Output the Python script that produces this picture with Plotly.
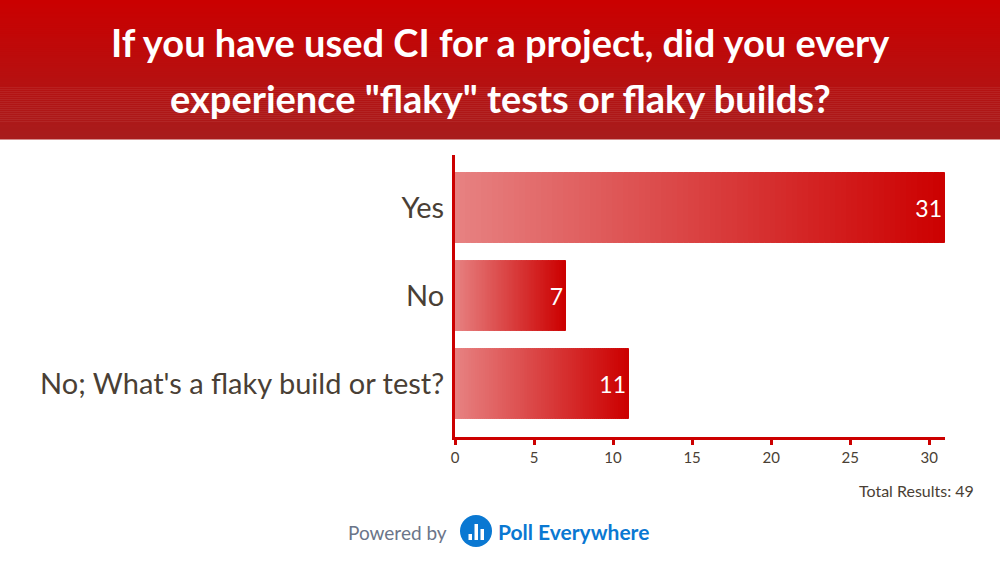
import plotly.graph_objects as go

categories = ["Yes", "No", "No; What's a flaky build or test?"]
counts = [31, 7, 11]
total_label = "Total Results: 49"
title_lines = ["If you have used CI for a project, did you every", "experience \"flaky\" tests or flaky builds?"]
x_ticks = [0, 5, 10, 15, 20, 25, 30]

FONT = "Source Sans Pro, Lato, Roboto, sans-serif"
LIGHT = (231, 130, 130)
DARK = (204, 0, 0)
N = 90

def lerp(a, b, t):
    return tuple(round(a[k] + (b[k] - a[k]) * t) for k in range(3))

fig = go.Figure()
for j in range(N):
    t = (j + 0.5) / N
    c = "rgb(%d,%d,%d)" % lerp(LIGHT, DARK, t)
    fig.add_trace(go.Bar(
        y=categories, x=[v / N for v in counts], base=[v * j / N for v in counts],
        orientation="h", width=0.79, marker=dict(color=c, line=dict(color=c, width=1)),
        hoverinfo="skip", showlegend=False))

fig.add_trace(go.Bar(
    y=categories, x=counts, orientation="h", width=0.79,
    marker=dict(color="rgba(0,0,0,0)", line=dict(width=0)),
    text=[str(v) for v in counts], textposition="inside", insidetextanchor="end",
    textfont=dict(color="white", size=23, family=FONT), showlegend=False))

W, H = 1000, 562
L, R, T, B = 455, 55, 155, 125
pw, ph = W - L - R, H - T - B

def px(xp):
    return (xp - L) / pw
def py(yp):
    return (H - B - yp) / ph

# banner gradient
shapes = []
S = 70
top = (202, 0, 0)
bot = (168, 28, 28)
BH = 139
for k in range(S):
    c = "rgb(%d,%d,%d)" % lerp(top, bot, k / (S - 1))
    shapes.append(dict(type="rect", xref="paper", yref="paper", x0=px(-5), x1=px(W + 5),
                       y0=py((k + 1) * BH / S + 0.5), y1=py(k * BH / S - (5 if k == 0 else 0)),
                       fillcolor=c, line=dict(width=0), layer="below"))

# logo circle
shapes.append(dict(type="circle", xref="paper", yref="paper", x0=px(460), x1=px(492), y0=py(547), y1=py(515),
                   fillcolor="#0a78d2", line=dict(width=0)))
for (bx0, bx1, by0) in [(468.5, 472, 534), (474.5, 478, 524), (480.5, 484, 529)]:
    shapes.append(dict(type="rect", xref="paper", yref="paper", x0=px(bx0), x1=px(bx1), y0=py(540), y1=py(by0),
                       fillcolor="white", line=dict(width=0)))

annotations = [
    dict(text="<b>" + title_lines[0] + "</b>", x=px(500), y=py(42), xref="paper", yref="paper",
         showarrow=False, font=dict(color="white", size=38, family=FONT), xanchor="center", yanchor="middle"),
    dict(text="<b>" + title_lines[1] + "</b>", x=px(500), y=py(98), xref="paper", yref="paper",
         showarrow=False, font=dict(color="white", size=38, family=FONT), xanchor="center", yanchor="middle"),
    dict(text=total_label, x=px(976), y=py(490), xref="paper", yref="paper", showarrow=False,
         font=dict(color="#4a3f35", size=16, family=FONT), xanchor="right", yanchor="middle"),
    dict(text="Powered by", x=px(449), y=py(532), xref="paper", yref="paper", showarrow=False,
         font=dict(color="#6b7589", size=19, family=FONT), xanchor="right", yanchor="middle"),
    dict(text="<b>Poll Everywhere</b>", x=px(496), y=py(531), xref="paper", yref="paper", showarrow=False,
         font=dict(color="#0a78d2", size=21, family=FONT), xanchor="left", yanchor="middle"),
]

fig.update_layout(
    width=W, height=H, margin=dict(l=L, r=R, t=T, b=B),
    plot_bgcolor="white", paper_bgcolor="white", barmode="overlay", bargap=0,
    shapes=shapes, annotations=annotations,
    font=dict(family=FONT, color="#4a3f35"),
    xaxis=dict(range=[0, 31], tickvals=x_ticks, showgrid=False, zeroline=False,
               showline=True, linecolor="#cc0000", linewidth=3, ticks="outside",
               tickcolor="#cc0000", tickwidth=3, ticklen=5, tickfont=dict(size=15, color="#4a3f35"),
               fixedrange=True),
    yaxis=dict(categoryorder="array", categoryarray=categories, autorange=False, range=[2.6, -0.6],
               showgrid=False, zeroline=False, showline=True, linecolor="#cc0000", linewidth=3,
               ticks="", ticklabelstandoff=2, tickfont=dict(size=29, color="#4a3f35"), fixedrange=True),
)

fig.write_html("out.html", config={"displayModeBar": False},
               post_script="document.body.style.margin='0';document.body.style.overflow='hidden';")
